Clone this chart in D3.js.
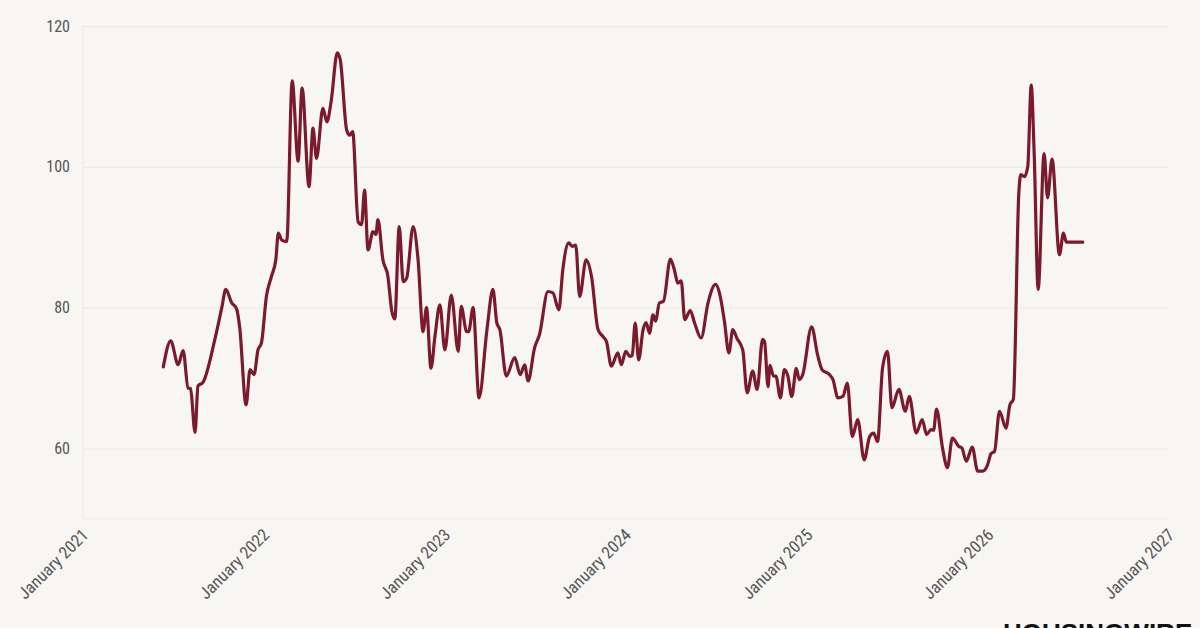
<!DOCTYPE html>
<html>
<head>
<meta charset="utf-8">
<script src="https://cdn.jsdelivr.net/npm/d3@7"></script>
<style>
  html, body { margin: 0; padding: 0; background: #f8f6f2; }
  svg { display: block; }
</style>
</head>
<body>
<svg id="chart" width="1200" height="628"></svg>
<script>
const dates = [
  "2021-06-10","2021-06-25","2021-07-10","2021-07-20","2021-07-30","2021-08-04","2021-08-13","2021-08-19","2021-08-29","2021-09-22",
  "2021-10-06","2021-10-14","2021-10-26","2021-11-05","2021-11-11","2021-11-24","2021-12-02","2021-12-10","2021-12-18","2021-12-25",
  "2022-01-04","2022-01-14","2022-01-23","2022-01-28","2022-02-04","2022-02-14","2022-02-25","2022-03-09","2022-03-17","2022-03-31",
  "2022-04-08","2022-04-15","2022-04-28","2022-05-06","2022-05-15","2022-05-27","2022-06-02","2022-06-15","2022-06-21","2022-06-27",
  "2022-07-08","2022-07-15","2022-07-21","2022-07-28","2022-08-07","2022-08-13","2022-08-17","2022-08-27","2022-09-06","2022-09-14",
  "2022-09-20","2022-09-29","2022-10-07","2022-10-14","2022-10-27","2022-11-06","2022-11-16","2022-11-23","2022-12-02","2022-12-10",
  "2022-12-20","2022-12-30","2023-01-12","2023-01-26","2023-02-01","2023-02-12","2023-02-16","2023-02-25","2023-03-09","2023-03-25",
  "2023-04-06","2023-04-14","2023-04-20","2023-05-03","2023-05-20","2023-05-31","2023-06-09","2023-06-16","2023-06-29","2023-07-09",
  "2023-07-26","2023-08-05","2023-08-17","2023-08-25","2023-09-06","2023-09-13","2023-09-20","2023-09-28","2023-10-11","2023-10-22",
  "2023-11-04","2023-11-14","2023-11-21","2023-12-01","2023-12-14","2023-12-21","2023-12-30","2024-01-07","2024-01-12","2024-01-18",
  "2024-01-25","2024-02-03","2024-02-09","2024-02-16","2024-02-23","2024-02-28","2024-03-07","2024-03-15","2024-03-29","2024-04-06",
  "2024-04-13","2024-04-20","2024-04-27","2024-05-08","2024-05-17","2024-05-30","2024-06-13","2024-06-28","2024-07-06","2024-07-16",
  "2024-07-25","2024-08-02","2024-08-10","2024-08-22","2024-08-31","2024-09-11","2024-09-20","2024-10-01","2024-10-05","2024-10-12",
  "2024-10-16","2024-10-23","2024-10-28","2024-11-06","2024-11-14","2024-11-21","2024-11-29","2024-12-08","2024-12-14","2024-12-21",
  "2025-01-08","2025-01-20","2025-01-29","2025-02-13","2025-02-20","2025-03-02","2025-03-12","2025-03-21","2025-03-31","2025-04-11",
  "2025-04-24","2025-05-05","2025-05-13","2025-05-21","2025-05-31","2025-06-10","2025-06-19","2025-07-03","2025-07-16","2025-07-24",
  "2025-08-07","2025-08-19","2025-08-28","2025-09-06","2025-09-11","2025-09-17","2025-09-29","2025-10-09","2025-10-19","2025-11-01",
  "2025-11-07","2025-11-16","2025-11-28","2025-12-09","2025-12-19","2025-12-29","2026-01-05","2026-01-12","2026-01-22","2026-02-04",
  "2026-02-12","2026-02-19","2026-03-02","2026-03-06","2026-03-13","2026-03-20","2026-03-27","2026-04-02","2026-04-10","2026-04-22",
  "2026-04-29","2026-05-08","2026-05-23","2026-05-31","2026-06-06","2026-06-22","2026-07-09"
];
const values = [
  71.6,75.3,71.9,73.9,68.6,68.5,62.3,68.9,69.4,75.5,
  80.0,82.6,80.7,79.8,77.3,66.2,71.2,70.5,74.0,75.0,
  81.6,84.4,86.8,90.6,89.6,89.4,112.2,100.8,111.2,97.2,
  105.5,101.2,108.3,106.4,109.5,116.2,115.2,105.2,104.5,105.0,
  92.2,91.8,96.7,88.2,90.8,90.4,92.5,86.8,84.5,79.5,
  78.4,91.5,83.7,84.2,91.5,86.8,76.6,80.0,71.4,75.9,
  80.4,74.0,81.8,73.8,80.2,76.6,76.6,80.0,67.2,76.9,
  82.6,77.8,76.9,70.3,72.9,70.5,71.9,69.6,74.3,76.2,
  82.3,82.1,79.7,85.4,89.2,88.7,88.9,81.6,86.8,84.4,
  76.9,75.9,75.2,71.7,73.6,71.9,73.8,73.1,73.2,77.8,
  72.6,76.9,77.9,76.4,79.0,78.1,80.7,80.9,86.9,85.4,
  83.5,83.8,78.3,79.6,77.8,75.7,80.7,83.3,82.1,78.1,
  73.6,76.9,75.7,74.0,67.9,71.0,68.4,75.5,75.2,68.8,
  71.8,70.3,70.3,67.2,71.2,70.3,67.4,71.4,69.8,70.5,
  77.3,73.3,71.2,70.5,69.8,67.2,67.4,69.3,61.7,64.1,
  58.4,61.7,62.2,61.0,71.4,73.8,65.8,68.4,65.3,67.4,
  62.2,64.1,62.0,62.7,62.6,65.6,60.1,57.3,61.5,60.3,
  60.1,58.2,60.2,56.8,56.8,57.7,59.3,59.6,65.3,62.9,
  66.2,67.0,96.3,98.9,98.6,100.0,111.6,101.9,82.6,101.9,
  95.6,101.1,87.5,90.6,89.3,89.3,89.3
];
const yTicks = [60, 80, 100, 120];
const xTickYears = [2021, 2022, 2023, 2024, 2025, 2026, 2027];
const xTickLabels = xTickYears.map(yr => "January " + yr);

const parse = d3.timeParse("%Y-%m-%d");
const data = dates.map((d, i) => ({ date: parse(d), value: values[i] }));

const svg = d3.select("#chart");
const pLeft = 83, pRight = 1168, pTop = 26, pBottom = 519;
const font = "'Roboto Condensed','Liberation Sans Narrow','DejaVu Sans Condensed','Roboto',sans-serif";

const x = d3.scaleTime()
  .domain([new Date(2021, 0, 1), new Date(2027, 0, 1)])
  .range([84, 1170]);
const y = d3.scaleLinear().domain([50, 120]).range([pBottom, pTop]);

svg.append("rect").attr("width", 1200).attr("height", 628).attr("fill", "#f8f6f2");

// gridlines
const yAxis = d3.axisLeft(y).tickValues(yTicks).tickSize(-(pRight - pLeft)).tickPadding(13);
const gy = svg.append("g").attr("transform", `translate(${pLeft},0)`).call(yAxis);
gy.select(".domain").remove();
gy.selectAll(".tick line").attr("stroke", "#ebe8e2").attr("stroke-width", 1);
gy.selectAll(".tick text")
  .attr("fill", "#555")
  .style("font-family", font)
  .style("font-size", "16px");

// frame lines (left and bottom)
svg.append("line").attr("x1", pLeft).attr("x2", pLeft).attr("y1", pTop).attr("y2", pBottom)
  .attr("stroke", "#ece9e3").attr("stroke-width", 1);
svg.append("line").attr("x1", pLeft).attr("x2", pRight).attr("y1", pBottom).attr("y2", pBottom)
  .attr("stroke", "#ece9e3").attr("stroke-width", 1);

// x axis labels
const xAxis = d3.axisBottom(x)
  .tickValues(xTickYears.map(yr => new Date(yr, 0, 1)))
  .tickSize(0)
  .tickFormat((d, i) => xTickLabels[i]);
const gx = svg.append("g").attr("transform", `translate(0,${pBottom})`).call(xAxis);
gx.select(".domain").remove();
gx.selectAll(".tick text")
  .attr("fill", "#555")
  .style("font-family", font)
  .style("font-size", "17px")
  .attr("text-anchor", "end")
  .attr("dy", null)
  .attr("y", 0)
  .attr("transform", "translate(5,17) rotate(-45)");

// line
const line = d3.line()
  .x(d => x(d.date))
  .y(d => y(d.value))
  .curve(d3.curveMonotoneX);

svg.append("path")
  .datum(data)
  .attr("fill", "none")
  .attr("stroke", "#7a1a2c")
  .attr("stroke-width", 3.2)
  .attr("stroke-linejoin", "round")
  .attr("stroke-linecap", "round")
  .attr("d", line);

// logo (partly cut off at the bottom edge, as in the reference)
svg.append("text")
  .attr("x", 1003)
  .attr("y", 642)
  .attr("fill", "#111")
  .style("font-family", "'Liberation Sans','DejaVu Sans',sans-serif")
  .style("font-weight", "900")
  .style("font-size", "26px")
  .text("HOUSINGWIRE");
</script>
</body>
</html>
